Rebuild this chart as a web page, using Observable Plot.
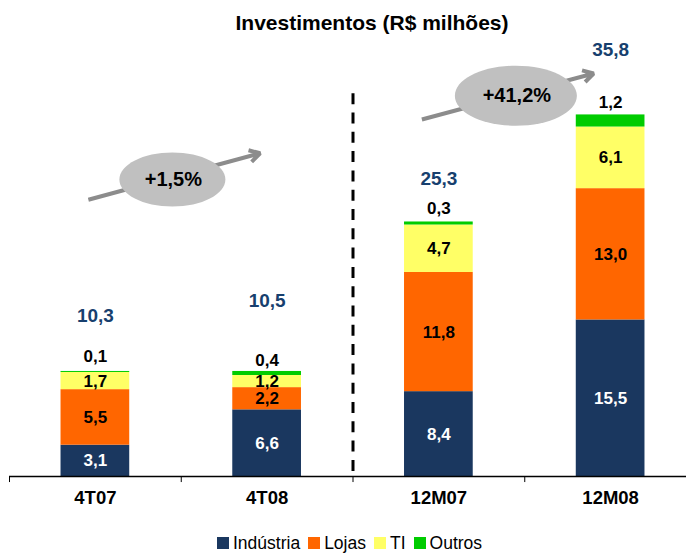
<!DOCTYPE html>
<html>
<head>
<meta charset="utf-8">
<script src="https://cdn.jsdelivr.net/npm/d3@7"></script>
<script src="https://cdn.jsdelivr.net/npm/@observablehq/plot@0.6"></script>
<style>
  body { margin: 0; background: #fff; font-family: "Liberation Sans", Arial, sans-serif; }
  #wrap { position: relative; width: 686px; height: 556px; overflow: hidden; }
  #chart { position: absolute; left: 0; top: 0; }
  #title { position: absolute; top: 12px; left: 0; width: 744px; text-align: center;
           font-weight: bold; font-size: 21px; line-height: 21px; color: #000; }
  #legend { position: absolute; top: 535px; left: 217px; font-size: 17.5px; line-height: 17.5px;
            white-space: nowrap; color: #000; }
  #legend .sw { display: inline-block; width: 12px; height: 12px; margin-right: 4px; }
  #legend .it { margin-right: 8px; }
</style>
</head>
<body>
<div id="wrap">
  <div id="chart"></div>
  <div id="title">Investimentos (R$ milhões)</div>
  <div id="legend"></div>
</div>
<script>
// ---- data ----
const categories = ["4T07", "4T08", "12M07", "12M08"];
const seriesNames = ["Indústria", "Lojas", "TI", "Outros"];
const industria = [3.1, 6.6, 8.4, 15.5];
const lojas = [5.5, 2.2, 11.8, 13.0];
const ti = [1.7, 1.2, 4.7, 6.1];
const outros = [0.1, 0.4, 0.3, 1.2];
const totals = [10.3, 10.5, 25.3, 35.8];
const growthLabels = ["+1,5%", "+41,2%"];
const growthPairs = [["4T07", "4T08"], ["12M07", "12M08"]];

// ---- styles / layout ----
const colors = ["#1A375F", "#FF6600", "#FFFF66", "#00CC00"];
const totalColor = "#173F6E";
const font = '"Liberation Sans", Arial, sans-serif';
const xRange = [9, 696];
const step = (xRange[1] - xRange[0]) / categories.length;
const totalDy = [-56, -71, -43, -65];
const outrosDy = [-15, -11, -13, -12];
const annLayout = [
  {dx: -7, y1: 27.4, y2: 32.0, cy: 29.4, rx: 53, ry: 27},
  {dx: -17, y1: 35.35, y2: 39.9, cy: 37.7, rx: 61, ry: 30}
];

const series = [industria, lojas, ti, outros];
const fmt = v => v.toFixed(1).replace(".", ",");

const rows = [];
categories.forEach((c, i) => {
  let base = 0;
  series.forEach((vals, j) => {
    rows.push({category: c, series: seriesNames[j], value: vals[i], y0: base, y1: base + vals[i], idx: j});
    base += vals[i];
  });
});
const tops = categories.map((c, i) => ({category: c, top: series.reduce((s, v) => s + v[i], 0), total: totals[i], outros: outros[i]}));

function ellipseSymbol(rx, ry) {
  const k = 0.5523, kx = rx * k, ky = ry * k;
  return {
    draw(ctx) {
      ctx.moveTo(rx, 0);
      ctx.bezierCurveTo(rx, ky, kx, ry, 0, ry);
      ctx.bezierCurveTo(-kx, ry, -rx, ky, -rx, 0);
      ctx.bezierCurveTo(-rx, -ky, -kx, -ry, 0, -ry);
      ctx.bezierCurveTo(kx, -ry, rx, -ky, rx, 0);
      ctx.closePath();
    }
  };
}

const marks = [
  Plot.barY(rows, {x: "category", y1: "y0", y2: "y1", fill: "series"}),
  Plot.ruleY([0], {stroke: "black", strokeWidth: 1.5}),
  Plot.ruleX(categories, {x: d => d, dx: -step / 2, y1: 0, y2: -0.6, stroke: "black", strokeWidth: 1}),
  Plot.ruleX(["12M07"], {x: d => d, dx: -step / 2, y1: 37.9, y2: 0.4, stroke: "black", strokeWidth: 3, strokeDasharray: "11,8.3"}),
  Plot.text(rows.filter(d => d.idx === 0), {x: "category", y: d => (d.y0 + d.y1) / 2, text: d => fmt(d.value), fill: "white", fontWeight: "bold", fontSize: 17}),
  Plot.text(rows.filter(d => d.idx === 1 || d.idx === 2), {x: "category", y: d => (d.y0 + d.y1) / 2, text: d => fmt(d.value), fill: "black", fontWeight: "bold", fontSize: 17}),
  ...tops.map((t, i) => Plot.text([t], {x: "category", y: "top", text: d => fmt(d.outros), dy: outrosDy[i], fill: "black", fontWeight: "bold", fontSize: 17})),
  ...tops.map((t, i) => Plot.text([t], {x: "category", y: "top", text: d => fmt(d.total), dy: totalDy[i], fill: totalColor, fontWeight: "bold", fontSize: 19})),
  Plot.text(categories, {x: d => d, y: () => 0, dy: 21.5, text: d => d, fill: "black", fontWeight: "bold", fontSize: 18.5}),
  ...growthPairs.map((p, i) => Plot.arrow([p], {x1: d => d[0], x2: d => d[1], y1: () => annLayout[i].y1, y2: () => annLayout[i].y2, dx: annLayout[i].dx, stroke: "#8C8C8C", strokeWidth: 4, headLength: 4.5, headAngle: 60, strokeLinecap: "butt", strokeLinejoin: "miter"})),
  ...growthPairs.map((p, i) => Plot.dot([p], {x: d => d[0], y: () => annLayout[i].cy, dx: 77, symbol: ellipseSymbol(annLayout[i].rx, annLayout[i].ry), fill: "#C0C0C0", stroke: "none"})),
  ...growthPairs.map((p, i) => Plot.text([p], {x: d => d[0], y: () => annLayout[i].cy, dx: 78, text: () => growthLabels[i], fill: "black", fontWeight: "bold", fontSize: 20}))
];

const chart = Plot.plot({
  width: 686,
  height: 530,
  marginLeft: 9,
  marginRight: 0,
  marginTop: 0,
  marginBottom: 54,
  style: {fontFamily: font, background: "white", overflow: "visible"},
  x: {domain: categories, range: xRange, paddingInner: 0.6, paddingOuter: 0.3, round: false, axis: null},
  y: {domain: [0, 40], range: [476, 72], axis: null},
  color: {domain: seriesNames, range: colors},
  marks
});
document.getElementById("chart").appendChild(chart);

const legend = document.getElementById("legend");
seriesNames.forEach((name, i) => {
  const sw = document.createElement("span");
  sw.className = "sw";
  sw.style.background = colors[i];
  const it = document.createElement("span");
  it.className = "it";
  it.textContent = name;
  legend.appendChild(sw);
  legend.appendChild(it);
});
</script>
</body>
</html>
